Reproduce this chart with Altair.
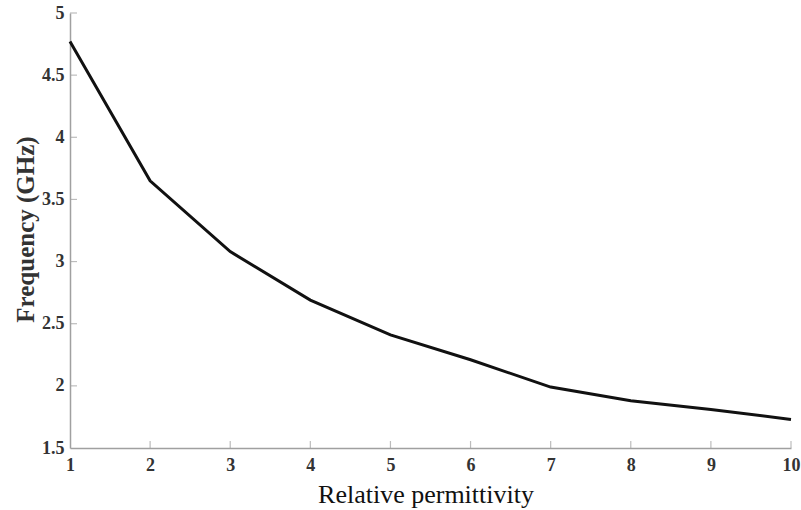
import altair as alt
import pandas as pd

permittivity = [1, 2, 3, 4, 5, 6, 7, 8, 9, 10]
frequency = [4.77, 3.65, 3.08, 2.69, 2.41, 2.21, 1.99, 1.88, 1.81, 1.73]
x_ticks = [1, 2, 3, 4, 5, 6, 7, 8, 9, 10]
y_ticks = [1.5, 2, 2.5, 3, 3.5, 4, 4.5, 5]

df = pd.DataFrame({"x": permittivity, "y": frequency})
xt = pd.DataFrame({"x": x_ticks[1:]})
yt = pd.DataFrame({"y": y_ticks[1:]})

FONT = "Liberation Serif"
AXCOL = "#a0a0a0"

xscale = alt.Scale(domain=[1, 10], nice=False, zero=False)
yscale = alt.Scale(domain=[1.5, 5], nice=False, zero=False)

line = alt.Chart(df).mark_line(color="#111111", strokeWidth=3).encode(
    x=alt.X("x:Q", scale=xscale, axis=alt.Axis(
        title="Relative permittivity", values=x_ticks, ticks=False, format="~g",
        labelFlush=False,
        domainColor=AXCOL, domainWidth=1.5, grid=False,
        labelFont=FONT, labelFontSize=18, labelFontWeight="bold", labelColor="#333333",
        labelPadding=8, titleFont=FONT, titleFontSize=26, titleFontWeight="normal",
        titleColor="#111111", titleX=355.5, titleY=46, titleBaseline="middle",
        titleAnchor="middle")),
    y=alt.Y("y:Q", scale=yscale, axis=alt.Axis(
        title="Frequency (GHz)", values=y_ticks, ticks=False, format="~g",
        labelFlush=False,
        domainColor=AXCOL, domainWidth=1.5, grid=False,
        labelFont=FONT, labelFontSize=18, labelFontWeight="bold", labelColor="#333333",
        labelPadding=6, titleFont=FONT, titleFontSize=25, titleFontWeight="bold",
        titleColor="#333333", titleX=-45, titleY=216, titleAngle=-90,
        titleBaseline="middle", titleAlign="center")),
)

xtick = alt.Chart(xt).mark_tick(color=AXCOL, thickness=1.2, size=7, orient="vertical").encode(
    x=alt.X("x:Q", scale=xscale), y=alt.value(431.5)
)
ytick = alt.Chart(yt).mark_tick(color=AXCOL, thickness=1.2, size=7, orient="horizontal").encode(
    y=alt.Y("y:Q", scale=yscale), x=alt.value(3.5)
)

chart = alt.layer(line, xtick, ytick).properties(
    width=721, height=435,
    autosize=alt.AutoSizeParams(type="none"),
    padding={"left": 70, "top": 13, "right": 10, "bottom": 62},
    background="white",
).configure_view(stroke=None)

chart.save("out.html", embed_options={"renderer": "svg", "actions": False})
